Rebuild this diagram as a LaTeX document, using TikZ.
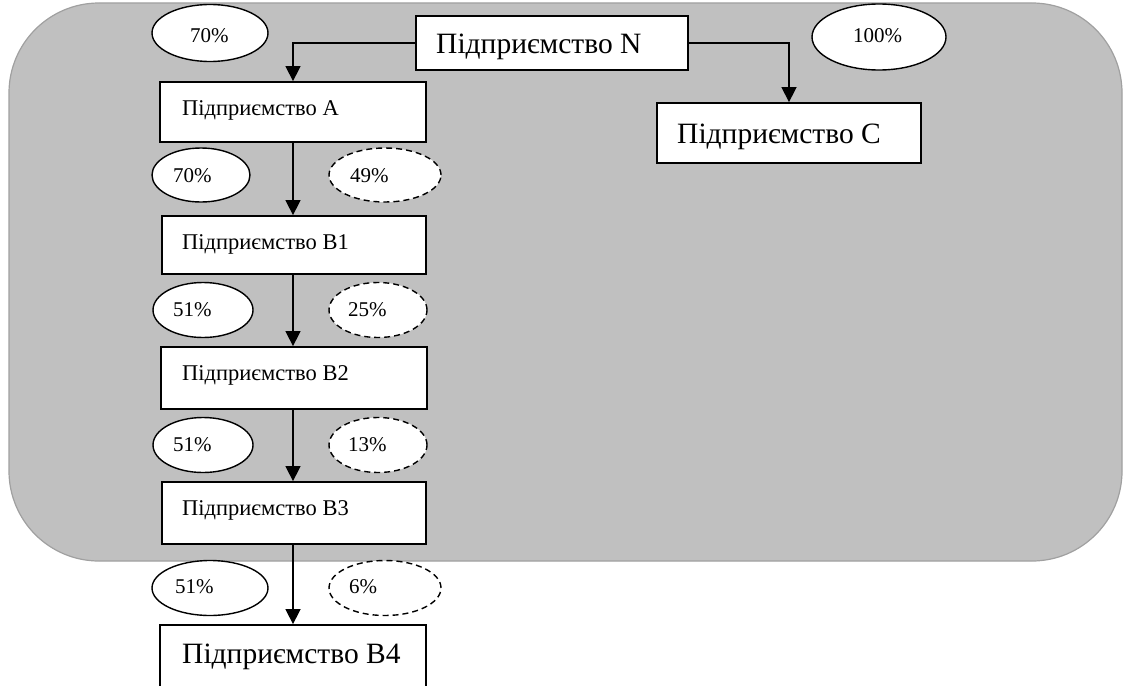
\documentclass[tikz,border=0pt]{standalone}
\usepackage{fontspec}
\setmainfont{Liberation Serif}
\usetikzlibrary{shapes.geometric,arrows.meta}
\definecolor{bgfill}{RGB}{192,192,192}
\definecolor{bgline}{RGB}{160,160,160}
\tikzset{
  boxnode/.style={draw=black,fill=white,line width=1.8pt,inner sep=0pt,minimum width=#1},
  boxnode/.default=266pt,
  oval/.style={ellipse,draw=black,fill=white,line width=1.4pt,inner sep=0pt},
  dashoval/.style={oval,dash pattern=on 6pt off 4pt},
  pct/.style={font=\fontsize{21}{25}\selectfont,inner sep=0pt,anchor=base west},
  small/.style={font=\fontsize{22.5}{26}\selectfont,inner sep=0pt,anchor=base west},
  big/.style={font=\fontsize{29.5}{34}\selectfont,inner sep=0pt,anchor=base west},
  conn/.style={line width=1.5pt,-{Triangle[length=15pt,width=15pt]}}
}
\begin{document}
\begin{tikzpicture}[x=1pt,y=-1pt]
\useasboundingbox (0,0) rectangle (1123,685);
\clip (0,0) rectangle (1123,685);
% background panel
\draw[fill=bgfill,draw=bgline,line width=1.2pt,rounded corners=90pt] (9,3) rectangle (1122,561);
% boxes
\node[boxnode=272pt,minimum height=54pt] (N) at (552,43) {};
\node[big] (Nt) at (436,54) {Підприємство N};
\node[boxnode=264pt,minimum height=60pt] (C) at (789,133) {};
\node[big] (Ct) at (677,143) {Підприємство C};
\node[boxnode,minimum height=60pt] (A) at (293,112) {};
\node[small] (At) at (182,115) {Підприємство A};
\node[boxnode=264pt,minimum height=58pt] (B1) at (294,245) {};
\node[small] (B1t) at (182,249) {Підприємство B1};
\node[boxnode,minimum height=62pt] (B2) at (294,378) {};
\node[small] (B2t) at (182,380) {Підприємство B2};
\node[boxnode=264pt,minimum height=62pt] (B3) at (294,513) {};
\node[small] (B3t) at (182,515) {Підприємство B3};
\node[boxnode,minimum height=100pt] (B4) at (293,675) {};
\node[big] (B4t) at (182,663) {Підприємство B4};
% ellipses
\node[oval,minimum width=116pt,minimum height=57pt] (e1) at (210,33) {};
\node[pct] (e1t) at (190,43) {70\%};
\node[oval,minimum width=134pt,minimum height=66pt] (e2) at (879,37) {};
\node[pct] (e2t) at (853,43) {100\%};
\node[oval,minimum width=98pt,minimum height=54pt] (e3) at (201,175) {};
\node[pct] (e3t) at (173,182) {70\%};
\node[dashoval,minimum width=112pt,minimum height=54pt] (e4) at (385,175) {};
\node[pct] (e4t) at (350,182) {49\%};
\node[oval,minimum width=100pt,minimum height=55pt] (e5) at (203,310) {};
\node[pct] (e5t) at (173,316) {51\%};
\node[dashoval,minimum width=98pt,minimum height=55pt] (e6) at (378,310) {};
\node[pct] (e6t) at (348,316) {25\%};
\node[oval,minimum width=100pt,minimum height=55pt] (e7) at (203,445) {};
\node[pct] (e7t) at (173,451) {51\%};
\node[dashoval,minimum width=98pt,minimum height=55pt] (e8) at (378,445) {};
\node[pct] (e8t) at (348,451) {13\%};
\node[oval,minimum width=116pt,minimum height=55pt] (e9) at (210,588) {};
\node[pct] (e9t) at (175,593) {51\%};
\node[dashoval,minimum width=112pt,minimum height=55pt] (e10) at (385,588) {};
\node[pct] (e10t) at (349,593) {6\%};
% connectors
\draw[conn] (N.west) -| (A.north);
\draw[conn] (N.east) -| (C.north);
\draw[conn] (A.south) -- (B1.north -| A.south);
\draw[conn] (B1.south -| A.south) -- (B2.north -| A.south);
\draw[conn] (B2.south -| A.south) -- (B3.north -| A.south);
\draw[conn] (B3.south -| A.south) -- (B4.north -| A.south);
\end{tikzpicture}
\end{document}
